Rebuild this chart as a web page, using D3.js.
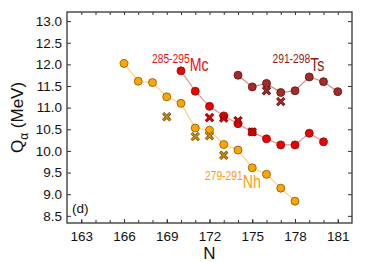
<!DOCTYPE html>
<html><head><meta charset="utf-8">
<script src="https://cdn.jsdelivr.net/npm/d3@7"></script>
<style>body{margin:0;background:#fff}svg{display:block;font-family:"Liberation Sans",Arial,sans-serif}</style>
</head><body><svg id="c" width="374" height="262"></svg>
<script>
const nhN = [166,167,168,169,170,171,172,173,174,175,176,177,178];
const nhQ = [12.02,11.61,11.58,11.25,11.10,10.53,10.48,10.15,10.02,9.61,9.46,9.14,8.84];
const nhExpN = [169,171,172,173];
const nhExpQ = [10.79,10.33,10.35,9.90];
const mcN = [170,171,172,173,174,175,176,177,178,179,180];
const mcQ = [11.85,11.38,11.03,10.81,10.63,10.44,10.28,10.14,10.14,10.41,10.21];
const mcExpN = [172,173,174,175];
const mcExpQ = [10.77,10.76,10.70,10.44];
const tsN = [174,175,176,177,178,179,180,181];
const tsQ = [11.75,11.48,11.56,11.35,11.39,11.71,11.60,11.37];
const tsExpN = [176,177];
const tsExpQ = [11.39,11.14];
const xTicks = [163,166,169,172,175,178,181];
const yTicks = [8.5,9.0,9.5,10.0,10.5,11.0,11.5,12.0,12.5,13.0];

const svg = d3.select("#c");
const L=67,R=352,T=12,B=223;
const x = d3.scaleLinear().domain([162,182]).range([L,R]);
const y = d3.scaleLinear().domain([8.335,13.21]).range([B,T]);
const axCol="#333";

const gB = svg.append("g").attr("transform",`translate(0,${B})`)
  .call(d3.axisBottom(x).tickValues(xTicks).tickFormat(d3.format("d")).tickSizeInner(-4).tickSizeOuter(0).tickPadding(8));
const gBm = svg.append("g").attr("transform",`translate(0,${B})`)
  .call(d3.axisBottom(x).tickValues(d3.range(163,182)).tickFormat("").tickSizeInner(-3).tickSizeOuter(0));
const gT = svg.append("g").attr("transform",`translate(0,${T})`)
  .call(d3.axisTop(x).tickValues(d3.range(163,182)).tickFormat("").tickSizeInner(-3).tickSizeOuter(0));
const gL = svg.append("g").attr("transform",`translate(${L},0)`)
  .call(d3.axisLeft(y).tickValues(yTicks).tickFormat(d3.format(".1f")).tickSizeInner(-4).tickSizeOuter(0).tickPadding(5));
const gR = svg.append("g").attr("transform",`translate(${R},0)`)
  .call(d3.axisRight(y).tickValues(yTicks).tickFormat("").tickSizeInner(-4).tickSizeOuter(0));
[gB,gBm,gT,gL,gR].forEach(g=>{
  g.select(".domain").remove();
  g.selectAll("line").attr("stroke",axCol);
  g.selectAll("text").attr("fill","#111").style("font-size","13.5px").style("font-family","Liberation Sans, Arial, sans-serif");
});
svg.append("rect").attr("x",L).attr("y",T).attr("width",R-L).attr("height",B-T)
  .attr("fill","none").attr("stroke",axCol).attr("stroke-width",1.3);

svg.append("text").attr("x",(L+R)/2).attr("y",259).attr("text-anchor","middle")
  .style("font-size","17px").attr("fill","#111").text("N");
const yl = svg.append("text").attr("transform",`translate(23,${(T+B)/2}) rotate(-90)`)
  .attr("text-anchor","middle").style("font-size","17px").attr("fill","#111");
yl.append("tspan").text("Q");
yl.append("tspan").attr("dy",5).style("font-size","12px").text("α");
yl.append("tspan").attr("dy",-5).text(" (MeV)");

function series(N,Q,fill,stroke,lineCol){
  const pts = N.map((n,i)=>[n,Q[i]]);
  svg.append("path").datum(pts).attr("fill","none").attr("stroke",lineCol).attr("stroke-width",1.2)
    .attr("d",d3.line().x(d=>x(d[0])).y(d=>y(d[1])));
  svg.append("g").selectAll("circle").data(pts).join("circle")
    .attr("cx",d=>x(d[0])).attr("cy",d=>y(d[1])).attr("r",4)
    .attr("fill",fill).attr("stroke",stroke).attr("stroke-width",0.8);
}
function crosses(N,Q,col,edge){
  const pts = N.map((n,i)=>[n,Q[i]]);
  const s=3.6;
  const p = d=>`M${x(d[0])-s},${y(d[1])-s}L${x(d[0])+s},${y(d[1])+s}M${x(d[0])-s},${y(d[1])+s}L${x(d[0])+s},${y(d[1])-s}`;
  const g = svg.append("g");
  g.selectAll("path.o").data(pts).join("path").attr("class","o").attr("d",p).attr("stroke",edge).attr("stroke-width",3).attr("fill","none");
  g.selectAll("path.i").data(pts).join("path").attr("class","i").attr("d",p).attr("stroke",col).attr("stroke-width",1.8).attr("fill","none");
}
series(nhN,nhQ,"#FFA500","#7a5a10","#FFD27F");
series(mcN,mcQ,"#EE0000","#7a1010","#F39090");
series(tsN,tsQ,"#A52A2A","#5a1010","#D08A8A");
crosses(nhExpN,nhExpQ,"#C8860A","#6a4a10");
crosses(mcExpN,mcExpQ,"#DD0000","#6a0000");
crosses(tsExpN,tsExpQ,"#A52A2A","#4a0a0a");

function isoLabel(x0,yb,sup,el,col){
  const t = svg.append("text").attr("transform",`translate(${x0},${yb}) scale(0.79,1)`).attr("fill",col);
  t.append("tspan").attr("x",0).attr("dy",-8.5).style("font-size","13px").text(sup);
  t.append("tspan").attr("dy",8.5).style("font-size","18px").text(el);
}
isoLabel(152,71,"285-295","Mc","#EE1111");
isoLabel(272.5,71,"291-298","Ts","#8B1A1A");
isoLabel(205,188.3,"279-291","Nh","#FF9A10");
svg.append("text").attr("x",72).attr("y",213).style("font-size","13.5px").attr("fill","#111").text("(d)");
</script></body></html>
